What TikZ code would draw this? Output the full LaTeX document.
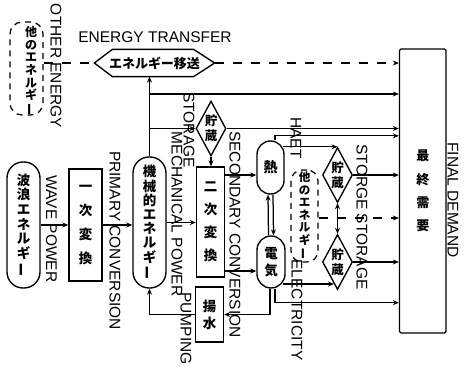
\documentclass[tikz,border=0pt]{standalone}
\usepackage{fontspec}
\usepackage{graphicx}
\setmainfont{Liberation Sans}
\newfontfamily\jp{Noto Sans CJK JP}
\usetikzlibrary{arrows.meta,shapes.geometric,calc}
\newcommand{\vbar}{\rotatebox[origin=c]{90}{ー}}
\newcommand{\jf}[2]{\jp\bfseries\fontsize{#1pt}{#2pt}\selectfont}
\begin{document}
\begin{tikzpicture}[x=1pt,y=-1pt, line width=1.25pt,
  arr/.style={-{Stealth[length=6pt,width=5pt]}},
  arrb/.style={{Stealth[length=6pt,width=5pt]}-{Stealth[length=6pt,width=5pt]}},
  box/.style={draw, rectangle, inner sep=0pt, line width=1.35pt, align=center},
  stad/.style={box, rounded corners=#1},
  dia/.style={draw, diamond, aspect=0.5, inner sep=0pt, minimum width=30pt, minimum height=55pt, line width=1.35pt, align=center, font=\jf{12.5}{15}},
  lab/.style={rotate=-90, inner sep=0pt, font=\fontsize{15.5pt}{18pt}\selectfont},
  dbox/.style={draw, dash pattern=on 6pt off 5pt, inner sep=0pt, line width=1.25pt, align=center},
  dline/.style={dash pattern=on 9pt off 9pt},
]
\useasboundingbox (0,0) rectangle (464,367);

% nodes
\node[dbox, rounded corners=12pt, minimum width=33pt, minimum height=93pt] (ob1) at (26.5,68.5) {};
\node[inner sep=0pt, align=center, font=\jf{12}{12.6}] (ob1t) at (31,71) {他\\の\\エ\\ネ\\ル\\ギ\\\vbar};

\node[inner sep=0pt, minimum width=119pt, minimum height=26pt, font=\jf{13}{14}] (hex) at (154.5,63) {エネルギー移送};
\draw[line width=1.35pt] (hex.west) -- ([xshift=18pt]hex.north west) -- ([xshift=-21pt]hex.north east) -- (hex.east)
  -- ([xshift=-21pt]hex.south east) -- ([xshift=18pt]hex.south west) -- cycle;

\node[stad=16pt, minimum width=33pt, minimum height=126pt, font=\jf{13.5}{14.6}] (wave) at (23.5,225) {波\\浪\\エ\\ネ\\ル\\ギ\\\vbar};
\node[box, minimum width=33pt, minimum height=112pt, font=\jf{13.5}{24}] (prim) at (85.5,225) {一\\次\\変\\換};
\node[stad=16pt, minimum width=33pt, minimum height=131pt, font=\jf{13.5}{14.2}] (mech) at (149.5,222.5) {機\\械\\的\\エ\\ネ\\ル\\ギ\\\vbar};
\node[dia] (sto1) at (211,128.5) {貯\\蔵};
\node[box, minimum width=28pt, minimum height=110pt, font=\jf{13.5}{23}] (sec) at (210.5,222) {二\\次\\変\\換};
\node[box, minimum width=28pt, minimum height=55pt, font=\jf{13.5}{17}] (pump) at (209.5,314.5) {揚\\水};
\node[stad=13.5pt, minimum width=27pt, minimum height=53pt, font=\jf{14}{15}] (heat) at (270.5,167.5) {熱};
\node[stad=14pt, minimum width=28pt, minimum height=52pt, font=\jf{13.5}{16.5}] (elec) at (271,262) {電\\気};
\node[dbox, rounded corners=11pt, minimum width=27pt, minimum height=92pt, font=\jf{11.5}{12.5}] (ob2) at (304.5,216) {他\\の\\エ\\ネ\\ル\\ギ\\\vbar};
\node[dia] (sto2) at (337.5,175) {貯\\蔵};
\node[dia] (sto3) at (337.5,262) {貯\\蔵};
\node[box, rounded corners=1.5pt, minimum width=46.5pt, minimum height=284pt, font=\jf{13}{23.3}] (final) at (422.75,191) {最\\終\\需\\要};

% labels
\node[inner sep=0pt, font=\fontsize{15.5pt}{18pt}\selectfont] (tEt) at (155,37.5) {ENERGY TRANSFER};
\node[lab] (tOE) at (56,66) {OTHER ENERGY};
\node[lab] (tWP) at (51.5,229) {WAVE POWER};
\node[lab] (tPC) at (115,240.5) {PRIMARY CONVERSION};
\node[lab] (tST) at (189,130) {STORAGE};
\node[lab] (tMP) at (177,214) {MECHANICAL POWER};
\node[lab] (tPU) at (186,328.5) {PUMPING};
\node[lab] (tSC) at (235,234.5) {SECONDARY CONVERSION};
\node[lab] (tHE) at (296,138) {HAET};
\node[lab] (tEL) at (297,310) {ELECTRICITY};
\node[lab] (tSS) at (362,217) {STORGE STORAGE};
\node[lab] (tFD) at (453,200) {FINAL DEMAND};

% connectors
\draw[arr] (wave.east) -- (prim.west);
\draw[arr] (prim.east) -- (prim.east -| mech.west);
\draw[arr] (mech.east) -- (mech.east -| sec.west);
\draw[arr] (mech.north) -- (mech.north |- hex.south);
\coordinate (j1) at (149.5,94);
\coordinate (j2) at (149.5,128.5);
\draw[arr] (j1) -- (j1 -| final.west);
\draw[arr] (j2) -- (sto1.west);
\draw[arr] (sto1.east) -- (sto1.east -| final.west);
\draw[arr] (sto1.south) -- (sto1.south |- sec.north);

\path ([yshift=-7.5pt]heat.west) coordinate (h1);
\draw[arr] (sec.east |- h1) -- (h1);
\path ([yshift=-9pt]elec.west) coordinate (e1);
\draw[arr] (sec.east |- e1) -- (e1);

\draw[arr] ([xshift=-2.5pt]elec.north) -- ([xshift=-2.5pt]heat.south);
\draw[arr] ([xshift=2.5pt]heat.south) -- ([xshift=2.5pt]elec.north);

\draw[arr] ([xshift=4.5pt]heat.north) -- ++(0,-4.5) coordinate (h2) -- (h2 -| final.west);
\draw[arr] ([xshift=-2pt]heat.east |- sto2.north) -- (sto2.north);
\draw[arr] (sto2.east) -- (sto2.east -| final.west);
\draw[arrb] (sto2.south) -- (sto3.north);
\draw[arr] (sto3.east) -- (sto3.east -| final.west);

\path ($(sto3.west)!0.78!(sto3.south)$) coordinate (s3);
\draw[arr] ([xshift=-3pt]elec.east |- s3) -- (s3);
\draw[arr] ([xshift=4pt]elec.south) -- ++(0,14) coordinate (e2) -- (e2 -| final.west);
\draw[arr] ([xshift=-1pt]elec.south) |- (pump.east);
\draw[arr] (pump.west) -| (mech.south);

\draw[dline] (ob1.east |- hex.west) -- (hex.west);
\draw[dline, arr] (hex.east) -- (hex.east -| final.west);
\draw[dline, arr] ([yshift=-2pt]ob2.east) -- ([yshift=-2pt]ob2.east -| final.west);
\end{tikzpicture}
\end{document}
